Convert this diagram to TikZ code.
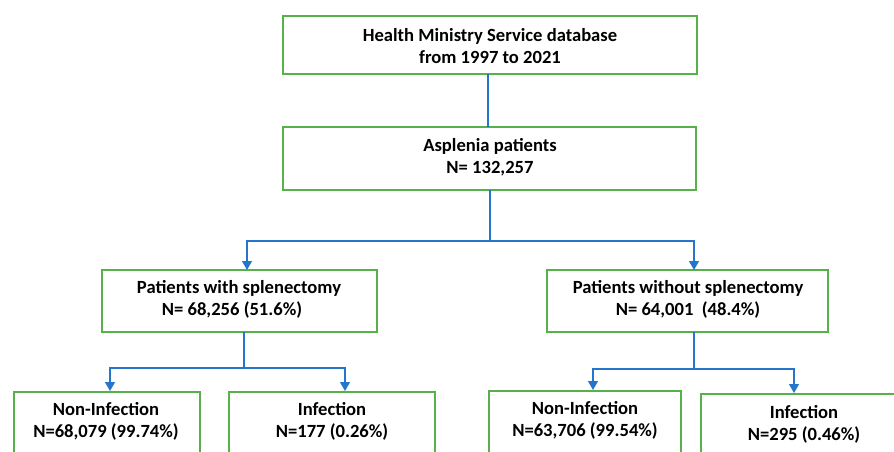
\documentclass[tikz,border=0pt]{standalone}
\usepackage{fontspec}
\setmainfont{Carlito}
\usetikzlibrary{arrows.meta}
\definecolor{boxgreen}{RGB}{84,178,72}
\definecolor{linkblue}{RGB}{36,118,204}
\tikzset{
  box/.style={draw=boxgreen, line width=1.8pt, fill=white},
  txt/.style={font=\bfseries\fontsize{18.6}{22}\selectfont, align=center, inner sep=0pt},
  conn/.style={draw=linkblue, line width=1.2pt},
  arr/.style={conn, -{Triangle[width=10pt,length=9pt]}},
}
\begin{document}
\begin{tikzpicture}[x=1pt,y=-1pt]
\useasboundingbox (0,0) rectangle (894,452);
\clip (0,0) rectangle (894,452);
% boxes
\draw[box] (283,16) rectangle (697,74);
\draw[box] (283,127) rectangle (696,190);
\draw[box] (102,270) rectangle (377,332);
\draw[box] (547,270) rectangle (828,332);
\draw[box] (14,392) rectangle (200,470);
\draw[box] (229,392) rectangle (435,470);
\draw[box] (489,391) rectangle (681,470);
\draw[box] (701,394) rectangle (900,470);
% named anchor coordinates
\coordinate (dbS) at (488,74);
\coordinate (aspN) at (488,127);
\coordinate (aspS) at (490,190);
\coordinate (j1) at (490,241);
\coordinate (withN) at (247,270);
\coordinate (woN) at (694,270);
\coordinate (withS) at (244,332);
\coordinate (j2) at (244,368);
\coordinate (niLN) at (110,391);
\coordinate (inLN) at (345,391);
\coordinate (woS) at (694,332);
\coordinate (j3) at (694,369);
\coordinate (niRN) at (593,390);
\coordinate (inRN) at (794,393);
% texts
\node[txt] (db) at (490,46) {Health Ministry Service database\\from 1997 to 2021};
\node[txt] (asp) at (490,157) {Asplenia patients\\N= 132,257};
\node[txt] (with) at (239,299) {Patients with splenectomy\\N= 68,256 (51.6\%)\hspace*{14pt}};
\node[txt] (wo) at (688,299) {Patients without splenectomy\\N= 64,001~~(48.4\%)};
\node[txt] (niL) at (106,421) {Non-Infection\\N=68,079 (99.74\%)};
\node[txt] (inL) at (332,421) {Infection\\N=177 (0.26\%)};
\node[txt] (niR) at (585,420) {Non-Infection\\N=63,706 (99.54\%)};
\node[txt] (inR) at (804,424) {Infection\\N=295 (0.46\%)};
% connectors
\draw[conn] (dbS) -- (aspN);
\draw[conn] (aspS) -- (j1);
\draw[arr] (j1) -| (withN);
\draw[arr] (j1) -| (woN);
\draw[conn] (withS) -- (j2);
\draw[arr] (j2) -| (niLN);
\draw[arr] (j2) -| (inLN);
\draw[conn] (woS) -- (j3);
\draw[arr] (j3) -| (niRN);
\draw[arr] (j3) -| (inRN);
\end{tikzpicture}
\end{document}
